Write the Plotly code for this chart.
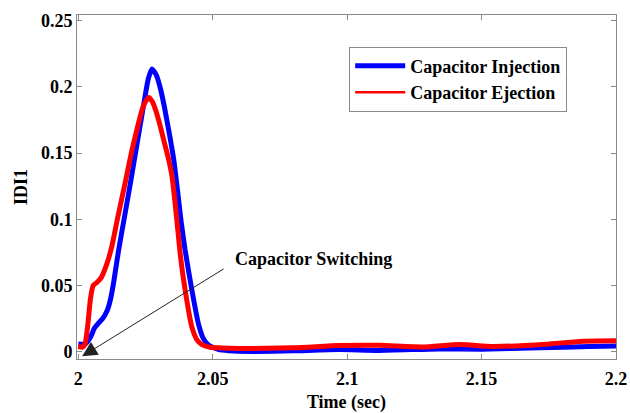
import plotly.graph_objects as go

# ---- data ----
t_inj = [2.0000, 2.0026, 2.0045, 2.0060, 2.0072, 2.0090, 2.0107, 2.0120, 2.0131, 2.0150,
         2.0170, 2.0190, 2.0210, 2.0230, 2.0245, 2.0260, 2.0274, 2.0290, 2.0305, 2.0320,
         2.0340, 2.0355, 2.0370, 2.0382, 2.0397, 2.0422, 2.0447, 2.0465, 2.0485, 2.0520,
         2.0560, 2.0650, 2.0800, 2.0969, 2.1118, 2.1340, 2.1500, 2.1716, 2.1900, 2.2000]
v_inj = [0.0060, 0.0060, 0.0110, 0.0180, 0.0210, 0.0250, 0.0310, 0.0400, 0.0520, 0.0770,
         0.1000, 0.1230, 0.1470, 0.1710, 0.1890, 0.2060, 0.2135, 0.2090, 0.1990, 0.1850,
         0.1630, 0.1450, 0.1200, 0.0990, 0.0770, 0.0470, 0.0210, 0.0100, 0.0050, 0.0018,
         0.0008, 0.0003, 0.0008, 0.0017, 0.0011, 0.0022, 0.0020, 0.0030, 0.0040, 0.0045]

t_ej = [2.0000, 2.0015, 2.0025, 2.0035, 2.0045, 2.0055, 2.0070, 2.0085, 2.0107, 2.0125,
        2.0144, 2.0172, 2.0197, 2.0218, 2.0236, 2.0250, 2.0262, 2.0275, 2.0290, 2.0305,
        2.0320, 2.0335, 2.0348, 2.0360, 2.0370, 2.0380, 2.0397, 2.0422, 2.0440, 2.0460,
        2.0490, 2.0520, 2.0600, 2.0800, 2.0969, 2.1120, 2.1282, 2.1418, 2.1540, 2.1740,
        2.1864, 2.2000]
v_ej = [0.0040, 0.0035, 0.0060, 0.0200, 0.0400, 0.0500, 0.0525, 0.0560, 0.0670, 0.0800,
        0.0990, 0.1255, 0.1500, 0.1680, 0.1820, 0.1890, 0.1920, 0.1890, 0.1810, 0.1700,
        0.1580, 0.1460, 0.1330, 0.1120, 0.0920, 0.0720, 0.0470, 0.0190, 0.0095, 0.0055,
        0.0035, 0.0030, 0.0025, 0.0030, 0.0047, 0.0049, 0.0037, 0.0056, 0.0041, 0.0058,
        0.0079, 0.0083]

x_ticks = [2.0, 2.05, 2.1, 2.15, 2.2]
x_ticklabels = ["2", "2.05", "2.1", "2.15", "2.2"]
y_ticks = [0, 0.05, 0.1, 0.15, 0.2, 0.25]
y_ticklabels = ["0", "0.05", "0.1", "0.15", "0.2", "0.25"]

name_inj = "Capacitor Injection"
name_ej = "Capacitor Ejection"
note_text = "Capacitor Switching"

FONT = dict(family="Liberation Serif, Times New Roman, serif", size=18, color="black", weight="bold")
FRAME = "#8a8a8a"

fig = go.Figure()
fig.add_trace(go.Scatter(x=t_inj, y=v_inj, mode="lines", name=name_inj,
                         line=dict(color="#0000ff", width=5, shape="spline", smoothing=0.5)))
# thin red entry for legend (hidden under thick red line)
fig.add_trace(go.Scatter(x=t_ej, y=v_ej, mode="lines", name=name_ej,
                         line=dict(color="#ff0000", width=2.5, shape="spline", smoothing=0.5)))
fig.add_trace(go.Scatter(x=t_ej, y=v_ej, mode="lines", name=name_ej, showlegend=False,
                         line=dict(color="#ff0000", width=5, shape="spline", smoothing=0.5)))

axis_common = dict(showgrid=False, zeroline=False, showline=True, linecolor=FRAME, linewidth=1,
                   mirror="ticks", ticks="inside", ticklen=5, tickcolor=FRAME, tickwidth=1,
                   tickfont=FONT, automargin=False)

fig.update_layout(
    width=630, height=413,
    margin=dict(l=77, r=14, t=15, b=54),
    paper_bgcolor="white", plot_bgcolor="white",
    font=FONT,
    xaxis=dict(range=[1.9995, 2.2], tickvals=x_ticks, ticktext=x_ticklabels, ticklabelstandoff=3,
               title=dict(text="Time (sec)", font=FONT, standoff=10), **axis_common),
    yaxis=dict(range=[-0.0054, 0.2543], tickvals=y_ticks, ticktext=y_ticklabels,
               title=dict(text="IDI1", font=FONT, standoff=8), **axis_common),
    legend=dict(x=0.505, y=0.908, xanchor="left", yanchor="top",
                bgcolor="white", bordercolor=FRAME, borderwidth=1,
                font=FONT, itemwidth=50, tracegroupgap=0),
    showlegend=True,
)

fig.add_annotation(x=2.0014, y=-0.0034, ax=2.0546, ay=0.0633, axref="x", ayref="y",
                   xref="x", yref="y", text="", showarrow=True, arrowhead=2,
                   arrowsize=3, arrowwidth=1, arrowcolor="#222222", standoff=0)
fig.add_annotation(x=2.0577, y=0.070, xref="x", yref="y", text=note_text,
                   showarrow=False, xanchor="left", yanchor="middle", font=FONT)

fig.write_html("out.html")
